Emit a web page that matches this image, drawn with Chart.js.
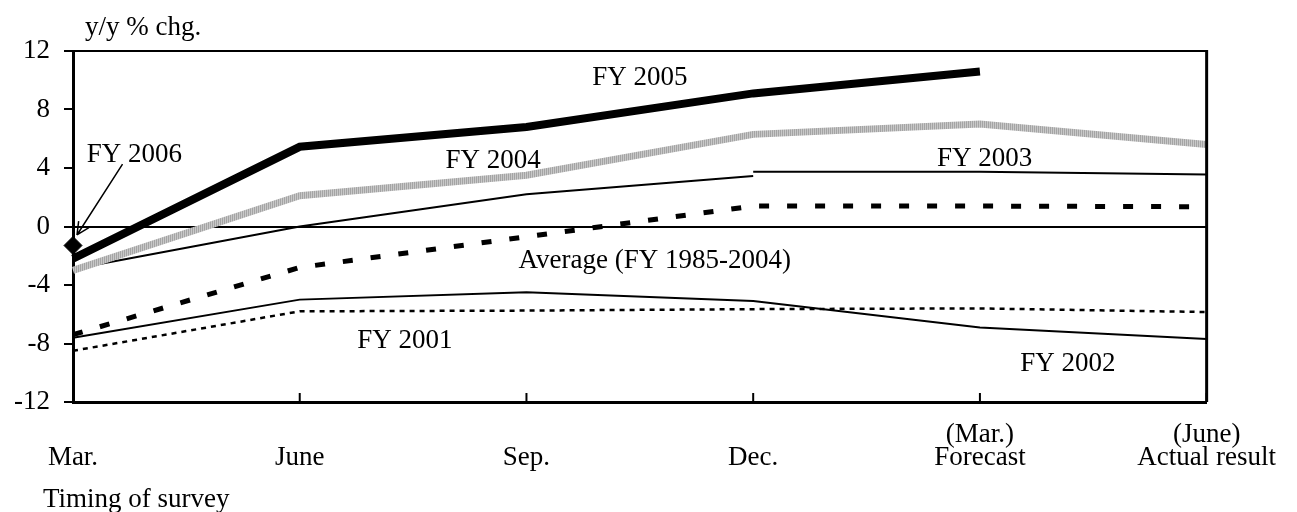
<!DOCTYPE html>
<html>
<head>
<meta charset="utf-8">
<title>Timing of survey</title>
<script src="https://cdn.jsdelivr.net/npm/chart.js@4.4.1/dist/chart.umd.min.js"></script>
<style>
  html, body { margin: 0; padding: 0; background: #fff; }
  #chart { display: block; }
</style>
</head>
<body>
<canvas id="chart" width="1297" height="512"></canvas>
<script>
// survey rounds (first line is the small note above the label)
const surveyLabels = [['', 'Mar.'], ['', 'June'], ['', 'Sep.'], ['', 'Dec.'], ['(Mar.)', 'Forecast'], ['(June)', 'Actual result']];
const yTicks = [-12, -8, -4, 0, 4, 8, 12];

// y/y % chg.
const fy2006 = [-1.3, null, null, null, null, null];
const fy2005 = [-2.2, 5.45, 6.8, 9.1, 10.6, null];
const fy2004 = [-3.0, 2.1, 3.5, 6.3, 7.0, 5.6];
const fy2003 = [-2.9, 0.0, 2.2, 3.45, null, null];
const fy2003rev = [null, null, null, 3.75, 3.75, 3.55];
const avg8504 = [-7.4, -2.8, -0.7, 1.4, 1.4, 1.35];
const fy2002 = [-7.6, -5.0, -4.5, -5.1, -6.9, -7.7];
const fy2001 = [-8.5, -5.8, -5.75, -5.65, -5.6, -5.85];

const FAMILY = '"Liberation Serif", "Times New Roman", serif';
const FONT = '27px ' + FAMILY;

// hatched grey for FY 2004
function stripePattern() {
  const c = document.createElement('canvas');
  c.width = 2; c.height = 1;
  const g = c.getContext('2d');
  g.fillStyle = '#a4a4a4'; g.fillRect(0, 0, 1, 1);
  g.fillStyle = '#c8c8c8'; g.fillRect(1, 0, 1, 1);
  return g.createPattern(c, 'repeat');
}

// series names written on the plot, [category index, value] at baseline
const notes = [
  { text: 'FY 2005', at: [2.5, 9.68] },
  { text: 'FY 2004', at: [1.853, 4.0] },
  { text: 'FY 2003', at: [4.021, 4.14] },
  { text: 'Average (FY 1985-2004)', at: [2.566, -2.84] },
  { text: 'FY 2001', at: [1.464, -8.31] },
  { text: 'FY 2002', at: [4.388, -9.88] },
  { text: 'FY 2006', at: [0.271, 4.41] }
];

const decorPlugin = {
  id: 'decor',
  afterDraw(chart) {
    const { ctx, chartArea: a, scales: { x, y } } = chart;
    ctx.save();
    ctx.strokeStyle = '#000';
    ctx.fillStyle = '#000';

    // right frame
    ctx.lineWidth = 3;
    ctx.beginPath();
    ctx.moveTo(a.right, a.top - 1);
    ctx.lineTo(a.right, a.bottom);
    ctx.stroke();

    // tick marks pointing up into the plot
    ctx.lineWidth = 2;
    x.ticks.forEach((t, i) => {
      const px = x.getPixelForTick(i);
      ctx.beginPath();
      ctx.moveTo(px, a.bottom);
      ctx.lineTo(px, a.bottom - 9);
      ctx.stroke();
    });

    ctx.font = FONT;
    ctx.textBaseline = 'alphabetic';
    ctx.textAlign = 'center';
    notes.forEach(n => {
      ctx.fillText(n.text, x.getPixelForValue(n.at[0]), y.getPixelForValue(n.at[1]));
    });

    // arrow to the FY 2006 point
    const x0 = x.getPixelForValue(0.2185), y0 = y.getPixelForValue(4.27);
    const x1 = x.getPixelForValue(0.0175), y1 = y.getPixelForValue(-0.58);
    ctx.lineWidth = 1.5;
    ctx.beginPath();
    ctx.moveTo(x0, y0);
    ctx.lineTo(x1, y1);
    const ang = Math.atan2(y1 - y0, x1 - x0);
    [0.45, -0.45].forEach(d => {
      ctx.moveTo(x1, y1);
      ctx.lineTo(x1 - 14 * Math.cos(ang + d), y1 - 14 * Math.sin(ang + d));
    });
    ctx.stroke();

    ctx.textAlign = 'left';
    ctx.fillText('y/y % chg.', 85, 35);
    ctx.fillText('Timing of survey', 43, 507);
    ctx.restore();
  }
};

const line = (label, data, extra) => Object.assign({
  label, data,
  borderColor: '#000',
  backgroundColor: '#000',
  borderWidth: 2,
  pointRadius: 0,
  tension: 0,
  fill: false
}, extra);

new Chart(document.getElementById('chart'), {
  type: 'line',
  data: {
    labels: surveyLabels,
    datasets: [
      line('FY 2006', fy2006, { showLine: false, pointStyle: 'rectRot', pointRadius: 9, borderWidth: 1 }),
      line('FY 2005', fy2005, { borderWidth: 8 }),
      line('FY 2004', fy2004, { borderColor: stripePattern(), borderWidth: 7 }),
      line('FY 2003', fy2003),
      line('FY 2003', fy2003rev),
      line('Average (FY 1985-2004)', avg8504, { borderWidth: 5, borderDash: [10, 18] }),
      line('FY 2002', fy2002),
      line('FY 2001', fy2001, { borderWidth: 2.5, borderDash: [5, 5] })
    ]
  },
  options: {
    responsive: false,
    animation: false,
    layout: { padding: { top: 51, right: 80, left: 0, bottom: 0 } },
    plugins: { legend: { display: false }, tooltip: { enabled: false } },
    scales: {
      x: {
        offset: false,
        grid: { drawOnChartArea: false, drawTicks: false },
        border: { color: '#000', width: 3 },
        ticks: {
          color: '#000',
          font: { family: FAMILY, size: 27, lineHeight: '23px' },
          padding: 21,
          maxRotation: 0,
          autoSkip: false
        },
        afterFit(s) { s.height = 110; }
      },
      y: {
        min: -12,
        max: 12,
        afterBuildTicks(s) { s.ticks = yTicks.map(v => ({ value: v })); },
        grid: {
          color: c => (c.tick && (c.tick.value === 0 || c.tick.value === 12)) ? '#000' : 'rgba(0,0,0,0)',
          lineWidth: 2,
          tickColor: '#000',
          tickLength: 9,
          tickWidth: 2
        },
        border: { color: '#000', width: 3 },
        ticks: { color: '#000', font: { family: FAMILY, size: 27 }, padding: 14 },
        afterFit(s) { s.width = 73; }
      }
    }
  },
  plugins: [decorPlugin]
});
</script>
</body>
</html>
